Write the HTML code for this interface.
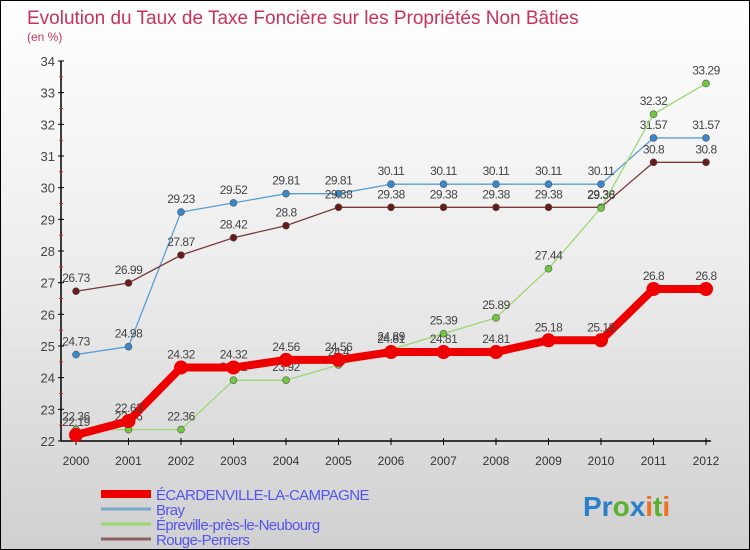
<!DOCTYPE html>
<html><head><meta charset="utf-8">
<style>
html,body{margin:0;padding:0;}
body{width:750px;height:550px;overflow:hidden;font-family:"Liberation Sans",sans-serif;}
#wrap{position:relative;width:748px;height:548px;border:1px solid #000;background:linear-gradient(#fff 0%,#ececec 50%,#d0d0d0 100%);}
</style></head>
<body>
<div id="wrap">
<svg id="chart" width="748" height="548" style="position:absolute;left:0;top:0">
<text x="26" y="23" font-size="19" fill="#c8325a">Evolution du Taux de Taxe Foncière sur les Propriétés Non Bâties</text>
<text x="26" y="40" font-size="12" fill="#c8325a">(en %)</text>
<g id="axes"></g>
<g id="series"></g>
<g id="legend"></g>
<text x="582" y="515" font-size="28" font-weight="bold"><tspan fill="#2a7fc8">Pr</tspan><tspan fill="#5cb030">o</tspan><tspan fill="#2a7fc8">x</tspan><tspan fill="#f07020">i</tspan><tspan fill="#5cb030">t</tspan><tspan fill="#f07020">i</tspan></text>
</svg>
</div>
<script>
const years = [2000,2001,2002,2003,2004,2005,2006,2007,2008,2009,2010,2011,2012];
const yTicks = [22,23,24,25,26,27,28,29,30,31,32,33,34];
const ecardValues = [22.19,22.63,24.32,24.32,24.56,24.56,24.81,24.81,24.81,25.18,25.18,26.8,26.8];
const brayValues = [24.73,24.98,29.23,29.52,29.81,29.81,30.11,30.11,30.11,30.11,30.11,31.57,31.57];
const eprevilleValues = [22.36,22.36,22.36,23.92,23.92,24.4,24.89,25.39,25.89,27.44,29.36,32.32,33.29];
const rougeValues = [26.73,26.99,27.87,28.42,28.8,29.38,29.38,29.38,29.38,29.38,29.38,30.8,30.8];
const seriesNames = ["ÉCARDENVILLE-LA-CAMPAGNE","Bray","Épreville-près-le-Neubourg","Rouge-Perriers"];

const NS="http://www.w3.org/2000/svg";
const xS = i => 75 + i*52.5;
const yS = v => 440 - (v-22)*(380/12);
function mk(tag,attrs,parent){const e=document.createElementNS(NS,tag);for(const k in attrs)e.setAttribute(k,attrs[k]);parent.appendChild(e);return e;}
const axes=document.getElementById('axes');
let ax=mk('line',{x1:60,y1:60,x2:60,y2:440,stroke:'#000','stroke-width':1.5},axes);


let bx=mk('line',{x1:60,y1:440,x2:710,y2:440,stroke:'#000','stroke-width':1.5},axes);


yTicks.forEach((t,i)=>{
  const y=yS(t);
  mk('line',{x1:57,y1:y,x2:63,y2:y,stroke:'#000'},axes);
  const tx=mk('text',{x:54,y:y+5,'font-size':13,fill:'#444','text-anchor':'end'},axes);
  tx.textContent=t;
  
  
  if(i<yTicks.length-1){const ym=yS(t+0.5);mk('line',{x1:58,y1:ym,x2:62,y2:ym,stroke:'#e02020'},axes);}
});
years.forEach((yr,i)=>{
  const x=xS(i);
  mk('line',{x1:x,y1:437,x2:x,y2:444,stroke:'#000'},axes);
  const tx=mk('text',{x:x,y:464,'font-size':12,fill:'#333','text-anchor':'middle'},axes);
  tx.textContent=yr;
  
  
});
const ser=document.getElementById('series');
function draw(vals,color,w,r,name,fill){
  const g=mk('g',{},ser);
  
  
  const pts=vals.map((v,i)=>xS(i)+','+yS(v)).join(' ');
  mk('polyline',{points:pts,fill:'none',stroke:color,'stroke-width':w},g);
  vals.forEach((v,i)=>{
    const c=mk('circle',{cx:xS(i),cy:yS(v),r:r,fill:fill,stroke:'#555','stroke-width':r>6?0:0.6},g);
    
    
    const t=mk('text',{x:xS(i),y:yS(v)-9,'font-size':12,fill:'#444','text-anchor':'middle','letter-spacing':'-0.5'},g);
    t.textContent=v;
    
    
  });
}
draw(brayValues,'#5a9fd4',1.3,3.5,'bray-series','#3a88cc');
draw(rougeValues,'#7a3a3a',1.3,3.5,'rouge-perriers-series','#6a1a1a');
draw(eprevilleValues,'#9ad870',1.3,3.5,'epreville-series','#70c840');
draw(ecardValues,'#ee0000',8,7,'ecardenville-series','#ee0000');
const leg=document.getElementById('legend');
const legColors=['#ee0000','#7aa8c8','#9ad870','#8a6060'];
const legW=[8,3,3,3];
seriesNames.forEach((n,i)=>{
  const y=493+i*15;
  const l=mk('line',{x1:100,y1:y,x2:150,y2:y,stroke:legColors[i],'stroke-width':legW[i]},leg);
  
  
  const t=mk('text',{x:155,y:y+6,'font-size':15,fill:'#5555ee','letter-spacing':'-0.6'},leg);
  t.textContent=n;
  
  
});
</script>
</body></html>
